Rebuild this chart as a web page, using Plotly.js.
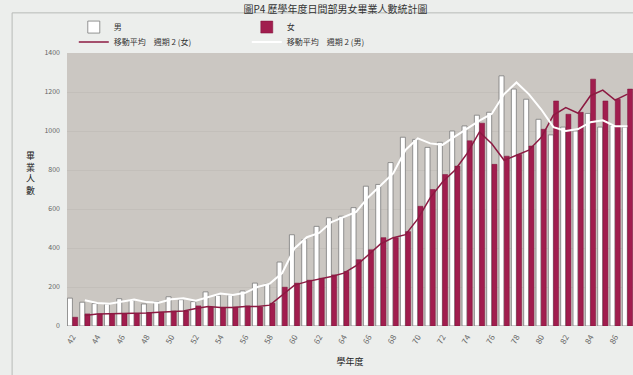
<!DOCTYPE html>
<html><head><meta charset="utf-8">
<script src="https://cdn.plot.ly/plotly-3.0.1.min.js"></script>
<style>html,body{margin:0;padding:0;background:#eceeec;}#chart{width:633px;height:375px;}</style>
</head><body><div id="chart"></div>
<script>
var years = ["42","43","44","45","46","47","48","49","50","51","52","53","54","55","56","57","58","59","60","61","62","63","64","65","66","67","68","69","70","71","72","73","74","75","76","77","78","79","80","81","82","83","84","85","86","87"];
var male = [143,122,115,113,140,132,113,125,150,135,125,175,158,160,180,220,215,328,468,443,511,555,563,607,717,726,838,968,957,916,942,1000,1026,1081,1096,1283,1215,1163,1060,980,1020,1000,1090,1020,1030,1020];
var female = [45,62,62,64,64,64,69,71,77,77,103,97,92,97,103,97,117,199,220,235,245,262,280,340,391,453,453,484,614,700,777,820,950,1040,829,871,880,923,1009,1154,1086,1096,1266,1154,1163,1215];
var tickYears = ["42","44","46","48","50","52","54","56","58","60","62","64","66","68","70","72","74","76","78","80","82","84","86"];
var yTicks = [0,200,400,600,800,1000,1200,1400];

var idx = years.map(function(_, i){ return i; });
function movingAvg(arr){
  var xs = [], ys = [];
  for (var i = 1; i < arr.length; i++){ xs.push(i); ys.push((arr[i-1] + arr[i]) / 2); }
  return {x: xs, y: ys};
}
var maF = movingAvg(female), maM = movingAvg(male);
var tickPos = tickYears.map(function(t){ return years.indexOf(t); });

var traces = [
  {type:'bar', name:'男', x: idx, y: male, legend:'legend',
   marker:{color:'#ffffff', line:{color:'#7a7a7a', width:0.8}}},
  {type:'bar', name:'女', x: idx, y: female, legend:'legend',
   marker:{color:'#a11d4e', line:{color:'#7d1038', width:0.5}}},
  {type:'scatter', mode:'lines', name:'移動平均　週期 2 (女)', x: maF.x, y: maF.y, legend:'legend2',
   line:{color:'#8c1a42', width:1.5}},
  {type:'scatter', mode:'lines', name:'移動平均　週期 2 (男)', x: maM.x, y: maM.y, legend:'legend2',
   line:{color:'#ffffff', width:2}}
];

var font = "'Noto Sans CJK TC', 'Noto Sans', sans-serif";
var legFont = {family: font, size:8, color:'#333'};
var layout = {
  width: 633, height: 375,
  margin: {l:67, r:0, t:53, b:49},
  paper_bgcolor: '#eceeec',
  plot_bgcolor: '#cbc7c2',
  font: {family: font, size: 8, color: '#555'},
  barmode: 'group', bargap: 0.15, bargroupgap: 0.05,
  showlegend: true,
  title: {text: '圖P4 歷學年度日間部男女畢業人數統計圖', font:{family: font, size: 10, color:'#333'},
          x: 0.53, xanchor:'center', yref:'container', y: 0.985, yanchor:'top'},
  xaxis: {range:[-0.45, 45.45], tickmode:'array', tickvals: tickPos, ticktext: tickYears,
          tickangle: -60, tickfont:{size:8, color:'#666'}, showgrid:false, zeroline:false,
          showline:false, ticks:'', automargin:false, ticklabelstandoff: 4,
          title:{text:'學年度', font:{family: font, size:9, color:'#222'}, standoff: 14}},
  yaxis: {range:[0, 1400], tickmode:'array', tickvals: yTicks, tickfont:{size:7, color:'#666'},
          showgrid:true, gridcolor:'#c3bfba', gridwidth:1, zeroline:false, showline:false, ticks:'',
          automargin:false, ticklabelstandoff: 6},
  legend: {x:0.012, y:1.095, xanchor:'left', yanchor:'middle', orientation:'h', bgcolor:'rgba(0,0,0,0)',
           font: legFont, traceorder:'normal', itemwidth:30, entrywidth:128, entrywidthmode:'pixels'},
  legend2: {x:0.012, y:1.04, xanchor:'left', yanchor:'middle', orientation:'h', bgcolor:'rgba(0,0,0,0)',
           font: legFont, traceorder:'normal', itemwidth:30, entrywidth:128, entrywidthmode:'pixels'},
  annotations: [
    {text:'畢<br>業<br>人<br>數', xref:'paper', yref:'paper', x:-0.065, y:0.56, xanchor:'center', yanchor:'middle',
     showarrow:false, font:{family: font, size:9, color:'#222'}, align:'center'}
  ],
  shapes: [
    {type:'line', xref:'paper', yref:'paper', x0:-0.097, x1:-0.097, y0:1.147, y1:-0.2, line:{color:'#b8bab8', width:1}},
    {type:'line', xref:'paper', yref:'paper', x0:-0.097, x1:1.0, y0:1.147, y1:1.147, line:{color:'#b8bab8', width:1}}
  ]
};
Plotly.newPlot('chart', traces, layout, {displayModeBar:false, staticPlot:true});
</script></body></html>
